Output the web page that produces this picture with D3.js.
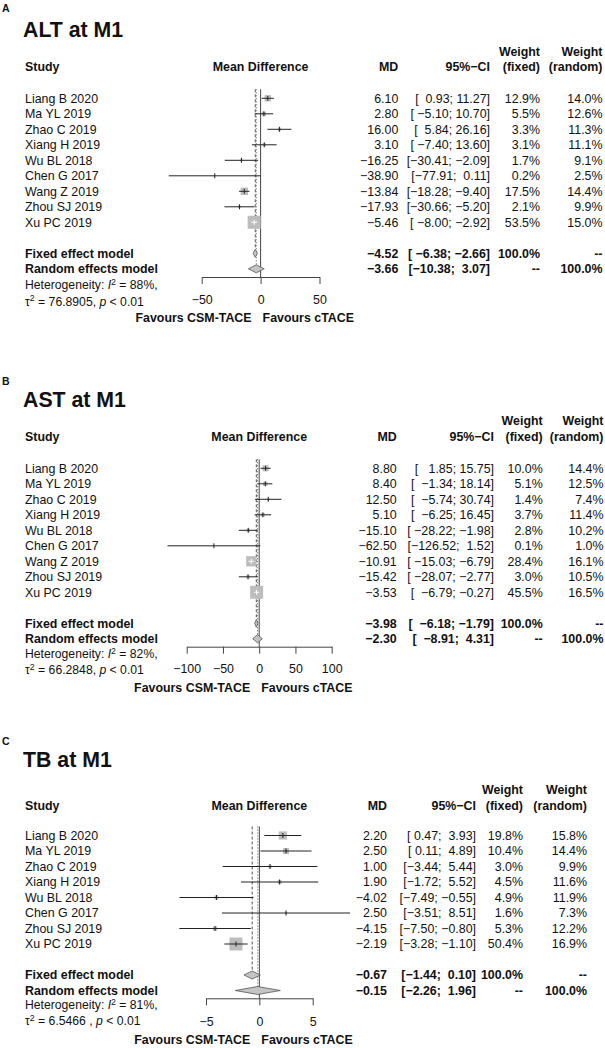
<!DOCTYPE html>
<html>
<head>
<meta charset="utf-8">
<script src="https://d3js.org/d3.v7.min.js"></script>
<style>
  html, body { margin: 0; padding: 0; background: #fff; }
  svg { font-family: 'Liberation Sans', Arial, Helvetica, sans-serif; }
  text { fill: #111; }
  .pre { white-space: pre; }
</style>
</head>
<body>
<svg id="chart" width="605" height="1048"></svg>
<script>
// ---- data: ALT at M1 ----
const altStudies = ["Liang B 2020", "Ma YL 2019", "Zhao C 2019", "Xiang H 2019", "Wu BL 2018", "Chen G 2017", "Wang Z 2019", "Zhou SJ 2019", "Xu PC 2019"];
const altMD = [6.10, 2.80, 16.00, 3.10, -16.25, -38.90, -13.84, -17.93, -5.46];
const altLo = [0.93, -5.10, 5.84, -7.40, -30.41, -77.91, -18.28, -30.66, -8.00];
const altHi = [11.27, 10.70, 26.16, 13.60, -2.09, 0.11, -9.40, -5.20, -2.92];
const altWFixed = [12.9, 5.5, 3.3, 3.1, 1.7, 0.2, 17.5, 2.1, 53.5];
const altWRandom = [14.0, 12.6, 11.3, 11.1, 9.1, 2.5, 14.4, 9.9, 15.0];
const altFixed = [-4.52, -6.38, -2.66];
const altRandom = [-3.66, -10.38, 3.07];
const altHet = ["88%", "76.8905"];
const altTicks = [-50, 0, 50];

// ---- data: AST at M1 ----
const astStudies = ["Liang B 2020", "Ma YL 2019", "Zhao C 2019", "Xiang H 2019", "Wu BL 2018", "Chen G 2017", "Wang Z 2019", "Zhou SJ 2019", "Xu PC 2019"];
const astMD = [8.80, 8.40, 12.50, 5.10, -15.10, -62.50, -10.91, -15.42, -3.53];
const astLo = [1.85, -1.34, -5.74, -6.25, -28.22, -126.52, -15.03, -28.07, -6.79];
const astHi = [15.75, 18.14, 30.74, 16.45, -1.98, 1.52, -6.79, -2.77, -0.27];
const astWFixed = [10.0, 5.1, 1.4, 3.7, 2.8, 0.1, 28.4, 3.0, 45.5];
const astWRandom = [14.4, 12.5, 7.4, 11.4, 10.2, 1.0, 16.1, 10.5, 16.5];
const astFixed = [-3.98, -6.18, -1.79];
const astRandom = [-2.30, -8.91, 4.31];
const astHet = ["82%", "66.2848"];
const astTicks = [-100, -50, 0, 50, 100];

// ---- data: TB at M1 ----
const tbStudies = ["Liang B 2020", "Ma YL 2019", "Zhao C 2019", "Xiang H 2019", "Wu BL 2018", "Chen G 2017", "Zhou SJ 2019", "Xu PC 2019"];
const tbMD = [2.20, 2.50, 1.00, 1.90, -4.02, 2.50, -4.15, -2.19];
const tbLo = [0.47, 0.11, -3.44, -1.72, -7.49, -3.51, -7.50, -3.28];
const tbHi = [3.93, 4.89, 5.44, 5.52, -0.55, 8.51, -0.80, -1.10];
const tbWFixed = [19.8, 10.4, 3.0, 4.5, 4.9, 1.6, 5.3, 50.4];
const tbWRandom = [15.8, 14.4, 9.9, 11.6, 11.9, 7.3, 12.2, 16.9];
const tbFixed = [-0.67, -1.44, 0.10];
const tbRandom = [-0.15, -2.26, 1.96];
const tbHet = ["81%", "6.5466 "];
const tbTicks = [-5, 0, 5];

const svg = d3.select("#chart");
const f2 = d3.format(".2f");
const pct = v => v == null ? "--" : d3.format(".1f")(v) + "%";
const FS = 12.4;

function txt(g, x, y, s, opt = {}) {
  return g.append("text")
    .attr("x", x).attr("y", y).attr("dy", "0.35em")
    .attr("text-anchor", opt.anchor || "start")
    .attr("font-weight", opt.bold ? "bold" : null)
    .attr("class", opt.pre ? "pre" : null)
    .style("font-size", (opt.size || FS) + "px")
    .text(s);
}

function drawPanel(p) {
  const g = svg.append("g");
  const n = p.studies.length;
  const x = d3.scaleLinear().domain(d3.extent(p.ticks)).range(p.xRange);
  const rowY = i => p.row1 + i * p.rowH;
  const fixedY = rowY(n + 1), randomY = rowY(n + 2);
  const side = d3.scaleSqrt().domain([0, d3.max(p.wFixed)]).range([0, 13]);

  // labels
  g.append("text").attr("x", 2).attr("y", p.labelY).attr("font-weight", "bold")
    .style("font-size", "10.5px").text(p.label);
  g.append("text").attr("x", 23).attr("y", p.titleY).attr("font-weight", "bold")
    .style("font-size", "21.3px").text(p.title);

  // header
  txt(g, 25, p.headY, "Study", {bold: true});
  txt(g, x(0), p.headY, "Mean Difference", {bold: true, anchor: "middle"});
  txt(g, p.cols[0], p.headY, "MD", {bold: true, anchor: "end"});
  txt(g, p.cols[1], p.headY, "95%\u2212CI", {bold: true, anchor: "end"});
  txt(g, p.cols[2], p.weightY, "Weight", {bold: true, anchor: "end"});
  txt(g, p.cols[2], p.headY, "(fixed)", {bold: true, anchor: "end"});
  txt(g, p.cols[3], p.weightY, "Weight", {bold: true, anchor: "end"});
  txt(g, p.cols[3], p.headY, "(random)", {bold: true, anchor: "end"});

  // CI strings padded like R
  const los = p.lo.concat([p.fixed[1], p.random[1]]).map(f2);
  const his = p.hi.concat([p.fixed[2], p.random[2]]).map(f2);
  const wl = d3.max(los, s => s.length), wh = d3.max(his, s => s.length);
  const ci = los.map((l, i) => "[" + l.padStart(wl) + "; " + his[i].padStart(wh) + "]");

  // study rows text
  p.studies.forEach((s, i) => {
    const y = rowY(i);
    txt(g, 25, y, s);
    txt(g, p.cols[0], y, f2(p.md[i]), {anchor: "end"});
    txt(g, p.cols[1], y, ci[i], {anchor: "end", pre: true});
    txt(g, p.cols[2], y, pct(p.wFixed[i]), {anchor: "end"});
    txt(g, p.cols[3], y, pct(p.wRandom[i]), {anchor: "end"});
  });

  // summary rows
  [[fixedY, "Fixed effect model", p.fixed, 100, null, n],
   [randomY, "Random effects model", p.random, null, 100, n + 1]].forEach(([y, lab, v, wf, wr, k]) => {
    txt(g, 25, y, lab, {bold: true});
    txt(g, p.cols[0], y, f2(v[0]), {bold: true, anchor: "end"});
    txt(g, p.cols[1], y, ci[k], {bold: true, anchor: "end", pre: true});
    txt(g, p.cols[2], y, pct(wf), {bold: true, anchor: "end"});
    txt(g, p.cols[3], y, pct(wr), {bold: true, anchor: "end"});
  });

  // vertical reference lines
  const top = p.row1 - 9;
  g.append("line").attr("x1", x(0)).attr("x2", x(0)).attr("y1", top).attr("y2", p.axisY)
    .attr("stroke", "#444").attr("stroke-width", 1);
  g.append("line").attr("x1", x(p.fixed[0])).attr("x2", x(p.fixed[0])).attr("y1", top).attr("y2", fixedY - 4)
    .attr("stroke", "#555").attr("stroke-dasharray", "3,2");
  g.append("line").attr("x1", x(p.random[0])).attr("x2", x(p.random[0])).attr("y1", top).attr("y2", randomY - 4)
    .attr("stroke", "#555").attr("stroke-dasharray", "1,2");

  // squares, CI lines, estimate ticks
  const rows = p.studies.map((s, i) => ({i, md: p.md[i], lo: p.lo[i], hi: p.hi[i], s: side(p.wFixed[i])}));
  rows.forEach(d => { d.inside = (x(d.hi) - x(d.lo)) < d.s; });
  g.selectAll("rect.sq").data(rows).enter().append("rect")
    .attr("x", d => x(d.md) - d.s / 2).attr("y", d => rowY(d.i) - d.s / 2)
    .attr("width", d => d.s).attr("height", d => d.s)
    .attr("fill", "#bdbdbd");
  g.selectAll("line.ci").data(rows).enter().append("line")
    .attr("x1", d => x(d.lo)).attr("x2", d => x(d.hi))
    .attr("y1", d => rowY(d.i)).attr("y2", d => rowY(d.i))
    .attr("stroke", d => d.inside ? "#fff" : "#222").attr("stroke-width", 1);
  g.selectAll("line.est").data(rows).enter().append("line")
    .attr("x1", d => x(d.md)).attr("x2", d => x(d.md))
    .attr("y1", d => rowY(d.i) - 2.5).attr("y2", d => rowY(d.i) + 2.5)
    .attr("stroke", d => d.inside ? "#fff" : "#222").attr("stroke-width", 1);

  // diamonds
  [[fixedY, p.fixed], [randomY, p.random]].forEach(([y, v]) => {
    g.append("path")
      .attr("d", `M${x(v[1])},${y}L${x(v[0])},${y - 4}L${x(v[2])},${y}L${x(v[0])},${y + 4}Z`)
      .attr("fill", "#c4c4c4").attr("stroke", "#555").attr("stroke-width", 0.8);
  });

  // axis
  const axis = d3.axisBottom(x).tickValues(p.ticks).tickSize(7).tickSizeOuter(0).tickPadding(p.tickPad);
  const ag = g.append("g").attr("transform", `translate(0,${p.axisY})`).call(axis)
    .attr("font-family", null).attr("font-size", null);
  ag.select(".domain").attr("stroke", "#444");
  ag.selectAll(".tick line").attr("stroke", "#444");
  ag.selectAll(".tick text").attr("fill", "#111").style("font-size", FS + "px");

  txt(g, x(0) - 9, p.favY, "Favours CSM-TACE", {bold: true, anchor: "end"});
  txt(g, x(0) + 2, p.favY, "Favours cTACE", {bold: true});

  // heterogeneity
  const h1 = g.append("text").attr("x", 25).attr("y", p.hetY).attr("dy", "0.35em").style("font-size", "12.2px");
  h1.append("tspan").text("Heterogeneity: ");
  h1.append("tspan").attr("font-style", "italic").text("I");
  h1.append("tspan").attr("dy", -4.5).style("font-size", "8.8px").text("2");
  h1.append("tspan").attr("dy", 4.5).text(" = " + p.het[0] + ",");
  const h2 = g.append("text").attr("x", 25).attr("y", p.tauY).attr("dy", "0.35em").style("font-size", "12.2px");
  h2.append("tspan").text("\u03c4");
  h2.append("tspan").attr("dy", -4.5).style("font-size", "8.8px").text("2");
  h2.append("tspan").attr("dy", 4.5).text(" = " + p.het[1] + ", ");
  h2.append("tspan").attr("font-style", "italic").text("p");
  h2.append("tspan").text(" < 0.01");
}

drawPanel({
  label: "A", title: "ALT at M1", studies: altStudies, md: altMD, lo: altLo, hi: altHi,
  wFixed: altWFixed, wRandom: altWRandom, fixed: altFixed, random: altRandom, het: altHet, ticks: altTicks,
  xRange: [201.7, 319.5], labelY: 11.7, titleY: 37.3, weightY: 51.7, headY: 66.7, row1: 98.3, rowH: 15.5,
  axisY: 277, tickPad: 11.6, hetY: 285, tauY: 301.5, favY: 317.5, cols: [398.3, 490, 540, 602.5]
});
drawPanel({
  label: "B", title: "AST at M1", studies: astStudies, md: astMD, lo: astLo, hi: astHi,
  wFixed: astWFixed, wRandom: astWRandom, fixed: astFixed, random: astRandom, het: astHet, ticks: astTicks,
  xRange: [186.7, 331.7], labelY: 385.2, titleY: 406.7, weightY: 421, headY: 436.7, row1: 468.3, rowH: 15.5,
  axisY: 646.7, tickPad: 10.9, hetY: 654, tauY: 670, favY: 687.3, cols: [396.7, 494, 542.7, 603.5]
});
drawPanel({
  label: "C", title: "TB at M1", studies: tbStudies, md: tbMD, lo: tbLo, hi: tbHi,
  wFixed: tbWFixed, wRandom: tbWRandom, fixed: tbFixed, random: tbRandom, het: tbHet, ticks: tbTicks,
  xRange: [206, 312.7], labelY: 745.2, titleY: 766.5, weightY: 790, headY: 806, row1: 835.5, rowH: 15.5,
  axisY: 998.3, tickPad: 12, hetY: 1005, tauY: 1021, favY: 1040, cols: [387, 476, 523, 587]
});
</script>
</body>
</html>
